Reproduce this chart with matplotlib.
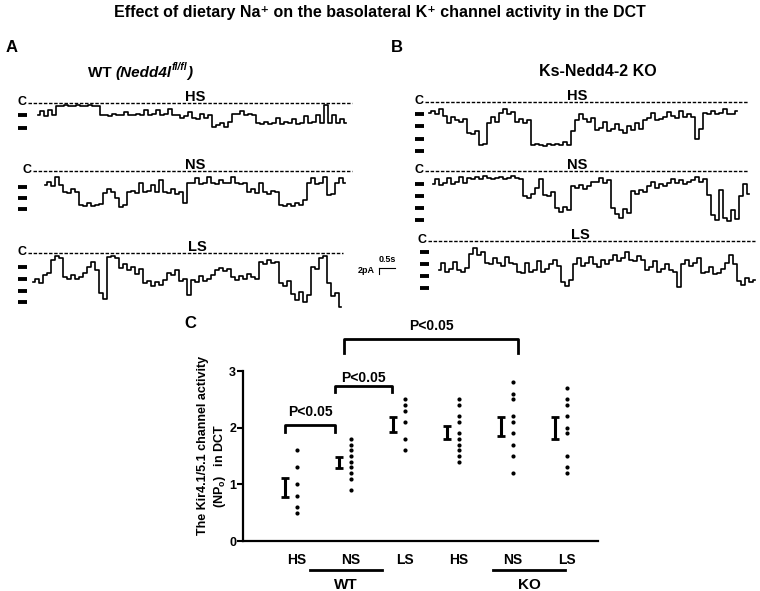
import matplotlib
matplotlib.use("Agg")
import matplotlib.pyplot as plt
import numpy as np

W, H = 760, 591
FONT = ["Liberation Sans", "DejaVu Sans"]
plt.rcParams["font.family"] = FONT
plt.rcParams["font.weight"] = "bold"

# ---- panel C data (NPo) ----
groups = ["WT", "KO"]
diets = ["HS", "NS", "LS", "HS", "NS", "LS"]
npo_mean = [0.95, 1.385, 2.055, 1.915, 2.015, 1.99]
npo_sem = [0.17, 0.105, 0.125, 0.115, 0.165, 0.19]
wt_hs = [1.6, 1.3, 1.0, 0.8, 0.6, 0.5]
wt_ns = [1.8, 1.7, 1.6, 1.5, 1.4, 1.3, 1.2, 1.1, 0.9]
wt_ls = [2.5, 2.4, 2.3, 2.1, 1.8, 1.6]
ko_hs = [2.5, 2.4, 2.2, 2.1, 1.9, 1.8, 1.7, 1.6, 1.5, 1.4]
ko_ns = [2.8, 2.6, 2.5, 2.2, 2.1, 1.9, 1.7, 1.5, 1.2]
ko_ls = [2.7, 2.5, 2.4, 2.2, 2.0, 1.9, 1.5, 1.3, 1.2]
points = [wt_hs, wt_ns, wt_ls, ko_hs, ko_ns, ko_ls]
pvals = ["P<0.05", "P<0.05", "P<0.05"]

# ---- single-channel traces: open level (number of open channels), 0.125 s per sample ----
DT = 0.125
a_hs = [1.0, 0.7, 1.1, 0.6, 1.0,
        0.3, 0.3, 0.25, 0.3, 0.3, 0.25, 0.3, 0.3, 0.25, 0.3, 0.3,
        1.0, 1.0, 1.05, 0.9, 1.0, 1.0, 0.8, 1.0, 1.0, 0.9, 1.0, 0.6, 1.0, 0.95, 0.6, 1.0, 0.9, 0.5, 1.0, 1.0,
        1.2, 1.1, 0.8, 1.2, 1.3, 0.9, 1.2, 1.0,
        1.9, 1.8, 1.6, 1.9, 1.5,
        0.9, 0.9, 0.7, 1.0, 0.9, 1.0,
        1.6, 1.7, 1.5, 1.7, 1.6, 1.2, 1.7, 1.5, 1.6, 1.3, 1.7, 1.6, 1.1, 1.6, 1.5, 1.0, 1.6, 0.2, 1.6, 1.0, 1.6, 1.3, 1.6]
a_ns = [0.8, 0.5, 0.9, 0.1, 0.8,
        1.4, 1.5, 1.2, 1.4,
        2.6, 2.7, 2.4, 2.7, 2.6, 2.5,
        1.5, 1.2, 1.4, 2.0,
        2.8, 2.6,
        1.4, 1.3, 1.5, 0.6, 1.4, 1.3, 0.8, 1.4,
        0.3, 1.4, 1.5, 1.2, 1.6, 1.4,
        2.4,
        0.6, 0.6, 0.2, 0.7, 0.6, 0.1, 0.6, 0.7, 0.3, 0.6, 0.6, 0.1, 0.6, 0.7, 0.6,
        1.4, 1.2, 1.5, 0.6, 1.4, 1.6, 1.3, 1.4,
        2.6, 2.7, 2.5, 2.7, 2.4, 2.6, 2.2,
        0.6, 0.2, 0.7, 0.6, 0.1,
        1.7, 1.6,
        0.6, 0.2, 0.6]
a_ls = [2.3, 2.0, 2.4, 1.7, 1.5, 0.4, 0.1, 0.3,
        1.9, 2.0, 1.7, 2.0, 1.9, 1.5, 1.0, 0.6, 1.3, 3.2, 3.7, 0.2, 0.1, 0.3,
        1.1, 0.8, 1.3, 1.0, 1.6, 1.2,
        2.4, 2.2, 2.6, 2.3, 2.5, 2.1, 1.5, 1.7, 1.3, 2.2, 2.0, 3.4,
        2.1, 2.3, 1.8, 2.2, 2.0, 1.7, 1.3, 1.1, 1.4, 1.2,
        1.9, 2.1, 1.8, 2.0, 1.6, 1.9, 2.0,
        0.6, 0.8, 0.4, 0.7, 0.6, 2.4, 2.6, 2.2,
        3.3, 3.8, 3.1, 4.0, 3.4, 1.0, 1.2, 0.3, 0.1, 2.4, 3.5, 3.2, 4.4]
b_hs = [0.9, 0.7, 1.0, 0.6, 1.1, 1.7, 1.2, 1.5, 1.6, 1.4,
        2.5, 2.6, 2.4, 3.5, 3.4, 1.7, 1.2, 1.6, 0.9, 0.6, 1.0, 0.8,
        1.6, 1.4, 1.7, 1.5,
        3.5, 3.4, 3.5, 3.6, 3.4, 3.5, 3.4, 3.5, 3.3, 3.5, 2.4,
        1.5, 1.0, 1.4, 1.6, 1.3,
        2.3, 2.1, 1.6, 2.4, 2.2, 1.8, 2.3, 2.5, 2.0, 2.3, 1.7, 2.2,
        1.5, 1.3, 0.9, 1.5, 1.4,
        1.2, 0.8, 1.1, 1.3, 0.7, 1.2, 1.0, 1.2, 3.0, 2.2,
        0.9, 1.0, 0.7, 1.0, 0.9, 0.6, 1.0, 1.0, 0.7]
b_ns = [1.0, 0.6, 1.1, 0.9, 0.5, 1.0, 0.8, 0.4, 0.9,
        0.5, 0.6, 0.4, 0.6, 0.3, 0.5, 0.6, 0.5, 0.4, 0.6, 0.5, 0.3, 0.5, 0.6,
        2.0, 2.2, 1.8, 1.3, 0.6, 1.9, 2.0, 1.7,
        3.0, 3.3, 2.9, 3.2,
        1.2, 1.3, 1.1, 1.4, 1.2, 0.8, 0.8, 0.5, 0.9, 0.7,
        3.0, 3.5, 3.8, 3.1, 3.4, 1.6, 1.8, 1.5, 1.7,
        1.2, 0.8, 1.3, 1.0, 1.2, 0.9, 0.6, 0.9, 0.7, 1.0, 0.8,
        0.7, 0.4, 0.8, 0.6, 1.9,
        3.6, 4.0, 1.5, 3.8, 4.1, 3.2, 3.9, 2.0, 1.0, 1.8]
b_ls = [2.5, 1.9, 2.6, 2.4, 1.8, 2.5, 2.6, 2.3,
        1.1, 0.6, 1.2, 1.0,
        1.9, 2.0, 1.5, 1.9, 2.1, 1.4, 1.9, 2.0,
        2.6, 2.7, 1.9, 2.6, 2.5, 1.7, 2.6, 2.4,
        2.0, 1.6, 2.1, 3.5, 3.8, 3.3,
        2.0, 1.5, 2.1, 1.9, 1.4, 2.0, 2.2, 1.6, 2.0,
        1.6, 1.2, 1.7, 1.5, 1.0, 1.6, 1.7, 1.3, 1.6,
        2.5, 2.2, 1.7, 2.6, 2.4, 2.0, 2.5, 2.6, 3.9,
        2.0, 1.6, 2.1, 1.9, 1.5,
        2.7, 2.6, 2.2, 2.8, 2.7, 2.4,
        1.9, 1.2, 2.0,
        3.4, 3.7, 3.1, 3.5, 3.3]

# layout of each trace in pixels: (data, label, x_trace, c_x0, c_x1, y_closed, y_level1, level_px, n_marks, mark_x, label_x)
PX_PER_S = 32.0
traces = [
    (a_hs, "HS", 38, 28, 352, 102.7, 115.0, 13.0, 2, 22, 195),
    (a_ns, "NS", 45, 33, 352, 171.0, 187.3, 11.0, 3, 22, 195),
    (a_ls, "LS", 33, 28, 343, 252.7, 266.7, 11.9, 4, 22, 197),
    (b_hs, "HS", 429, 425, 748, 101.7, 114.3, 12.2, 4, 419, 577),
    (b_ns, "NS", 433, 425, 748, 170.7, 184.0, 12.0, 4, 419, 577),
    (b_ls, "LS", 439, 428, 755, 241.0, 252.3, 12.0, 4, 424, 580),
]


def px_rect(x0, y0, x1, y1):
    return [x0 / W, 1 - y1 / H, (x1 - x0) / W, (y1 - y0) / H]


fig = plt.figure(figsize=(W / 100, H / 100), dpi=100)

bg = fig.add_axes([0, 0, 1, 1])
bg.set_xlim(0, W)
bg.set_ylim(H, 0)
bg.axis("off")

bg.text(380, 13, "Effect of dietary Na\u207a on the basolateral K\u207a channel activity in the DCT",
        ha="center", va="center", fontsize=11.5, family=FONT)
bg.text(12, 47, "A", ha="center", va="center", fontsize=12)
bg.text(397, 47, "B", ha="center", va="center", fontsize=12)
bg.text(190, 323, "C", ha="center", va="center", fontsize=12)

t1 = bg.text(88, 77, "WT ", fontsize=11, va="baseline")
t2 = bg.annotate("(Nedd4l", xy=(1, 0), xycoords=t1, va="bottom", fontsize=11, style="italic")
t3 = bg.annotate("fl/fl", xy=(1, 0.55), xycoords=t2, va="bottom", fontsize=7.5, style="italic")
bg.annotate(")", xy=(1, 0), xycoords=(t3, t2), va="bottom", fontsize=11, style="italic")
bg.text(598, 72, "Ks-Nedd4-2 KO", ha="center", va="center", fontsize=11.5)

for data, lab, xt, cx0, cx1, yc, y1, lp, nm, mx, lx in traces:
    def cur(ypx, y1=y1, lp=lp):
        return -(1 + (ypx - y1) / lp)
    ax = fig.add_axes(px_rect(cx0, yc - 2, cx1, y1 + 3.5 * lp))
    ax.set_xlim((cx0 - xt) / PX_PER_S, (cx1 - xt) / PX_PER_S)
    ax.set_ylim(cur(y1 + 3.5 * lp), cur(yc - 2))
    ax.axis("off")
    t = np.arange(len(data)) * DT
    ax.plot(t, -np.array(data), color="black", lw=1.2, drawstyle="steps-mid", clip_on=False)
    ax.plot([(cx0 - xt) / PX_PER_S, (cx1 - xt) / PX_PER_S], [cur(yc), cur(yc)],
            color="black", lw=1.0, dashes=(2.5, 1.2), clip_on=False)
    for k in range(1, nm + 1):
        ax.plot([(mx - 4.5 - xt) / PX_PER_S, (mx + 4.5 - xt) / PX_PER_S], [-k, -k],
                color="black", lw=2.8, solid_capstyle="butt", clip_on=False)
    bg.text(cx0 - 6, yc - 1, "C", ha="center", va="center", fontsize=9)
    bg.text(lx, yc - 6, lab, ha="center", va="center", fontsize=10.5)
    if lab == "LS" and xt < 100:
        # scale bar: 0.5 s horizontal, 2 pA vertical (one channel ~ 4 pA)
        sx = (379 - xt) / PX_PER_S
        sy = cur(268)
        ax.plot([sx, sx + 0.5], [sy, sy], color="black", lw=0.8, clip_on=False)
        ax.plot([sx, sx], [sy, sy - 0.5], color="black", lw=0.8, clip_on=False)
        ax.text(sx + 0.25, sy + 0.3, "0.5s", ha="center", va="bottom", fontsize=6.5)
        ax.text(sx - 0.12, sy - 0.2, "2pA", ha="right", va="center", fontsize=6.5)

# ---- panel C ----
axc = fig.add_axes(px_rect(243, 371, 598, 541))
xs = np.arange(1, len(diets) + 1)
for x, vals in zip(xs, points):
    axc.plot([x] * len(vals), vals, "o", color="black", ms=3, mec="none", clip_on=False)
axc.errorbar(xs - 0.22, npo_mean, yerr=npo_sem, fmt="none", ecolor="black",
             elinewidth=2.2, capsize=3, capthick=2)
axc.set_xlim(0, 6.57)
axc.set_ylim(0, 3)
axc.set_yticks([0, 1, 2, 3])
axc.set_yticklabels(["0", "1", "2", "3"], fontsize=9)
axc.set_xticks(xs)
axc.set_xticklabels(diets, fontsize=10)
axc.tick_params(axis="x", length=0, pad=9)
axc.tick_params(axis="y", length=4, width=1.5, pad=1)
for s in ["top", "right"]:
    axc.spines[s].set_visible(False)
for s in ["left", "bottom"]:
    axc.spines[s].set_linewidth(1.6)

brackets = [(0.78, 1.70, 2.05, 1.93, 2.27), (1.70, 2.76, 2.73, 2.63, 2.88), (1.87, 5.09, 3.56, 3.31, 3.79)]
for (xa, xb, top, leg, ty), p in zip(brackets, pvals):
    axc.plot([xa, xa, xb, xb], [leg, top, top, leg], color="black", lw=2, clip_on=False)
    axc.text((xa + xb) / 2, ty, p, ha="center", va="center", fontsize=10)

for (xa, xb), g in zip([(1.24, 2.57), (4.63, 5.96)], groups):
    axc.plot([xa, xb], [-0.51, -0.51], color="black", lw=2, clip_on=False)
    axc.text((xa + xb) / 2, -0.78, g, ha="center", va="center", fontsize=11)

bg.text(203, 445, "The Kir4.1/5.1 channel activity", rotation=90, ha="center", va="center", fontsize=9)
bg.text(220, 466, "(NP$_\\mathregular{o}$)   in DCT", rotation=90, ha="center", va="center", fontsize=9)

fig.savefig("out.png", dpi=100)
